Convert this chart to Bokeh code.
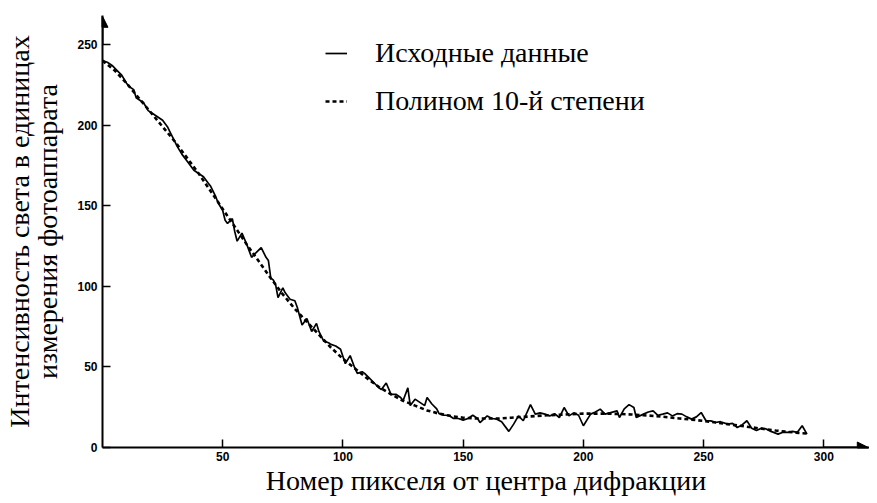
from bokeh.plotting import figure
from bokeh.models import Arrow, NormalHead, FixedTicker, Legend, LegendItem, Range1d
from bokeh.embed import file_html
from bokeh.resources import INLINE

# Исходные данные (measured profile)
raw_x = [0, 2, 4, 6, 8, 10, 11, 13, 14, 16, 17, 19, 21, 23, 25, 27, 28, 30, 31, 33,
         35, 37, 38, 40, 42, 44, 45, 47, 48, 50, 51, 52, 54, 55, 56, 58, 60, 62, 64, 66,
         68, 69, 70, 71, 72, 73, 75, 76, 78, 80, 81, 83, 85, 87, 89, 90, 92, 94, 95, 97,
         99, 101, 103, 105, 106, 108, 109, 111, 113, 115, 116, 118, 120, 122, 124, 125, 127, 128, 130, 132,
         134, 135, 137, 139, 140, 142, 144, 146, 148, 150, 152, 154, 156, 157, 160, 162, 164, 166, 169, 171,
         173, 175, 178, 180, 182, 184, 186, 188, 190, 192, 194, 196, 198, 200, 203, 205, 207, 209, 211, 214,
         215, 217, 219, 221, 222, 225, 227, 229, 231, 233, 235, 237, 239, 241, 243, 245, 247, 249, 251, 253,
         255, 257, 260, 262, 264, 266, 268, 270, 272, 274, 276, 278, 281, 283, 285, 287, 289, 291, 293]
raw_y = [240, 239, 237, 234, 231, 226, 224, 222, 217, 215, 214, 209, 207, 205, 203, 199, 196, 190, 187, 182,
         178, 174, 172, 170, 168, 164, 162, 156, 152, 147, 141, 139, 142, 134, 128, 133, 126, 118, 121, 124,
         118, 116, 105, 104, 101, 93, 99, 96, 92, 91, 87, 76, 80, 72, 77, 72, 66, 65, 64, 63,
         61, 52, 57, 49, 46, 47, 46, 43, 40, 37, 36, 40, 33, 33, 31, 29, 37, 26, 30, 28,
         26, 31, 27, 24, 21, 20, 20, 18, 18, 17, 18, 20, 18, 15.5, 19.6, 18, 17.6, 16, 10, 14.5,
         19.6, 16.6, 26.6, 20.7, 21.5, 20.7, 19.6, 21, 18.6, 24.8, 19.6, 21.5, 20, 13.5, 20.7, 22, 23.8, 20.7, 21.5, 22.7,
         18.6, 24, 26.6, 24.8, 18.6, 20.7, 22, 22.7, 20, 20.7, 21.5, 19.6, 21, 20.7, 19, 17.6, 19, 21.7, 16.6, 16.5,
         15.5, 16, 14.5, 15, 12.4, 14, 16.6, 12, 10.5, 12, 11.5, 10, 8.3, 9.5, 9.4, 10, 9.4, 13.5, 8.3]

# Полином 10-й степени (fit)
fit_x = [0, 5, 10, 15, 20, 25, 30, 35, 40, 45, 50, 55, 60, 65, 70, 75, 80, 85, 90, 95,
         100, 105, 110, 115, 120, 125, 130, 135, 140, 145, 150, 155, 160, 165, 170, 175, 180, 185, 190, 195,
         200, 205, 210, 215, 220, 225, 230, 235, 240, 245, 250, 255, 260, 265, 270, 275, 280, 285, 290, 293]
fit_y = [240, 234, 226, 217, 208, 199, 190, 180, 170, 159, 148, 137, 126, 115.5, 105, 95, 86, 78, 70, 62,
         55, 49, 43, 37.5, 33, 29, 26, 23, 21, 19.5, 18.5, 18, 18, 18, 18.5, 19, 19.5, 20, 20.3, 20.7,
         21, 21, 21, 20.8, 20.5, 20, 19.5, 18.8, 18, 17.3, 16.5, 15.5, 14.5, 13.5, 12.5, 11.5, 10.5, 9.7, 9, 8.7]

x_ticks = [50, 100, 150, 200, 250, 300]
y_ticks = [0, 50, 100, 150, 200, 250]

p = figure(width=869, height=503, output_backend="svg", toolbar_location=None,
           x_range=Range1d(0, 319), y_range=Range1d(0, 268),
           min_border_left=94, min_border_right=0, min_border_top=15, min_border_bottom=56)
p.outline_line_color = None
p.grid.visible = False

r1 = p.line(raw_x, raw_y, line_color="black", line_width=1.7)
r2 = p.line(fit_x, fit_y, line_color="black", line_width=2.6, line_dash="4 3")

for ax in (p.xaxis[0], p.yaxis[0]):
    ax.axis_line_width = 2
    ax.axis_line_color = "black"
    ax.major_tick_line_color = "black"
    ax.major_tick_line_width = 1.5
    ax.major_tick_in = 8
    ax.major_tick_out = 0
    ax.minor_tick_in = 0
    ax.minor_tick_out = 0
    ax.major_label_text_font = "Liberation Sans"
    ax.major_label_text_font_style = "bold"
    ax.major_label_text_font_size = "12px"
    ax.major_label_text_color = "black"
    ax.axis_label_text_font = "Liberation Serif"
    ax.axis_label_text_font_style = "normal"
    ax.axis_label_text_font_size = "28px"
    ax.axis_label_text_color = "black"
    ax.axis_label_text_line_height = 0.92

p.xaxis.ticker = FixedTicker(ticks=x_ticks)
p.yaxis.ticker = FixedTicker(ticks=y_ticks)
p.xaxis.major_label_standoff = 4
p.yaxis.major_label_standoff = 5
p.xaxis.axis_label = "Номер пикселя от центра дифракции"
p.yaxis.axis_label = "Интенсивность света в единицах\nизмерения фотоаппарата"
p.xaxis.axis_label_standoff = 1
p.yaxis.axis_label_standoff = 11

p.add_layout(Arrow(end=NormalHead(size=11, fill_color="black", line_color="black"),
                   x_start=300, y_start=0, x_end=318.5, y_end=0, line_width=2))
p.add_layout(Arrow(end=NormalHead(size=11, fill_color="black", line_color="black"),
                   x_start=0, y_start=250, x_end=0, y_end=267.5, line_width=2))

legend = Legend(items=[LegendItem(label="Исходные данные", renderers=[r1]),
                       LegendItem(label="Полином 10-й степени", renderers=[r2])],
                location=(223, 330), padding=0, margin=0, spacing=16,
                glyph_width=22, glyph_height=32, label_height=32, label_standoff=28,
                label_text_font="Liberation Serif", label_text_font_size="28px",
                label_text_color="black",
                border_line_color=None, background_fill_alpha=0)
p.add_layout(legend)

open("out.html", "w").write(file_html(p, INLINE))
